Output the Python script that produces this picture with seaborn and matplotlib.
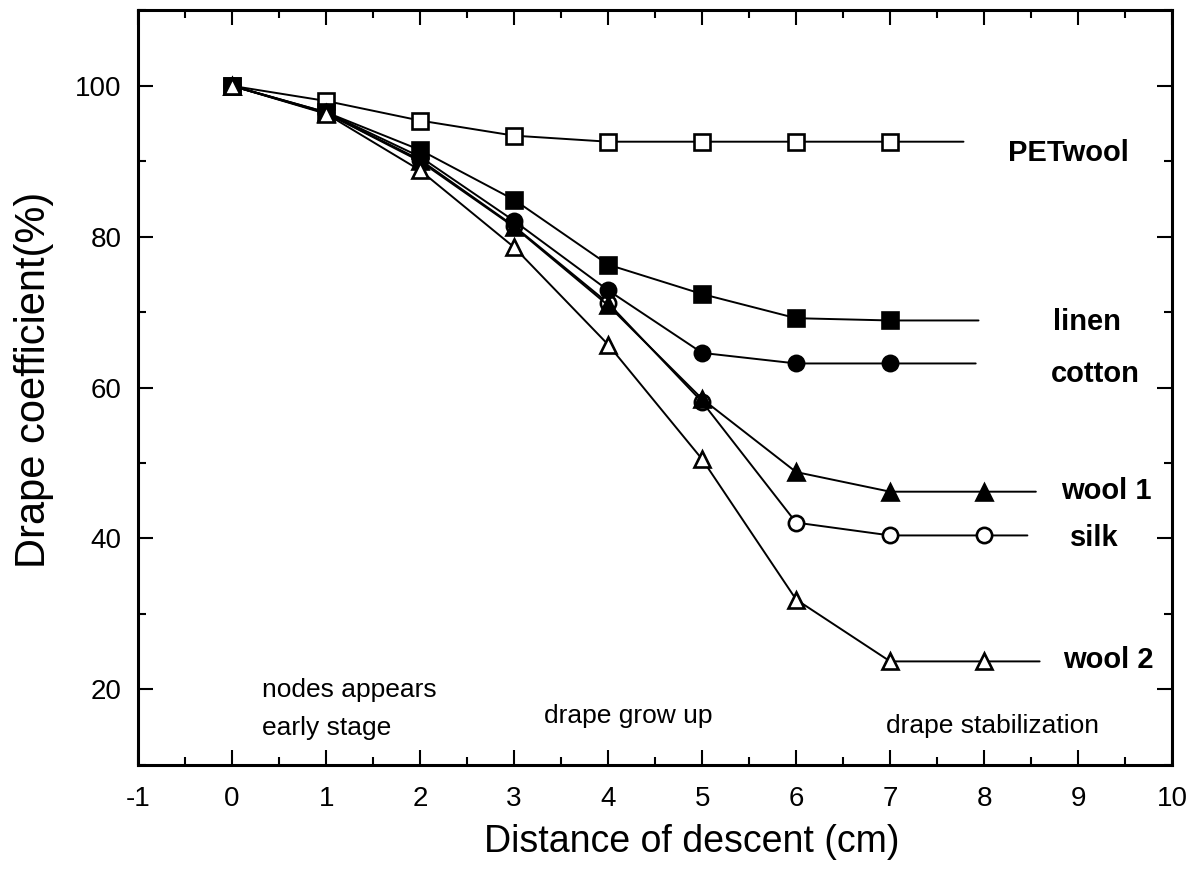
import numpy as np
import pandas as pd
import matplotlib
matplotlib.use("Agg")
import matplotlib.pyplot as plt
from matplotlib.ticker import MultipleLocator
import seaborn as sns

# descent distance (cm) where drape was measured
distance = [0, 1, 2, 3, 4, 5, 6, 7, 8]

# drape coefficient (%), one list per fabric
petwool = [100, 98.0, 95.4, 93.4, 92.6, 92.6, 92.6, 92.6]
linen = [100, 96.5, 91.5, 84.9, 76.3, 72.4, 69.2, 68.9]
cotton = [100, 96.5, 90.6, 82.1, 72.9, 64.6, 63.2, 63.2]
wool1 = [100, 96.4, 90.0, 81.3, 70.9, 58.5, 48.8, 46.2, 46.2]
silk = [100, 96.4, 90.2, 81.4, 71.2, 58.1, 42.1, 40.4, 40.4]
wool2 = [100, 96.3, 88.8, 78.6, 65.7, 50.5, 31.9, 23.7, 23.7]

# where each connecting line runs out to the right (no marker there)
tail_x = {"PETwool": 7.78, "linen": 7.94, "cotton": 7.91,
          "wool 1": 8.55, "silk": 8.46, "wool 2": 8.59}

# drawing order: silk first so the filled markers sit on top of it
names = ["silk", "PETwool", "linen", "cotton", "wool 1", "wool 2"]
values = [silk, petwool, linen, cotton, wool1, wool2]
markers = ["o", "s", "s", "o", "^", "^"]
filled = [False, False, True, True, True, False]

# label placement next to each curve
label_x = [8.91, 8.25, 8.73, 8.71, 8.82, 8.84]
label_y = [40.1, 91.1, 68.7, 61.8, 46.3, 23.9]

stage_text = ["nodes appears\nearly stage", "drape grow up", "drape stabilization"]
stage_x = [0.32, 3.32, 6.96]
stage_y = [17.4, 16.4, 15.1]

sns.set_style("ticks")
plt.rcParams["font.family"] = ["Liberation Sans", "DejaVu Sans"]
plt.rcParams["axes.unicode_minus"] = False
for key in ["text.color", "axes.labelcolor", "xtick.color", "ytick.color", "axes.edgecolor"]:
    plt.rcParams[key] = "black"

fig = plt.figure(figsize=(12.01, 8.71), dpi=100)
ax = fig.add_axes([0.115, 0.122, 0.861, 0.866])

for name, vals, mk, fill in zip(names, values, markers, filled):
    xs = distance[:len(vals)] + [tail_x[name]]
    ys = vals + [vals[-1]]
    df = pd.DataFrame({"x": xs, "y": ys})
    sns.lineplot(data=df, x="x", y="y", ax=ax, color="black", lw=1.4,
                 marker=mk, markersize=11 if mk != "^" else 12,
                 markerfacecolor="black" if fill else "white",
                 markeredgecolor="black", markeredgewidth=1.9,
                 markevery=list(range(len(vals))), sort=False)

for name, lx, ly in zip(names, label_x, label_y):
    ax.text(lx, ly, name, fontsize=21, fontweight="bold", va="center", ha="left")

for txt, sx, sy in zip(stage_text, stage_x, stage_y):
    ax.text(sx, sy, txt, fontsize=19, va="center", ha="left", linespacing=1.7)

ax.set_xlim(-1, 10)
ax.set_ylim(10, 110)
ax.xaxis.set_major_locator(MultipleLocator(1))
ax.xaxis.set_minor_locator(MultipleLocator(0.5))
ax.yaxis.set_minor_locator(MultipleLocator(10))
ax.set_yticks([20, 40, 60, 80, 100])
ax.tick_params(which="both", direction="in", top=True, right=True, width=1.5)
ax.tick_params(which="major", length=11, labelsize=20)
ax.tick_params(axis="x", which="major", pad=15)
ax.tick_params(axis="y", which="major", pad=12)
ax.tick_params(which="minor", length=6)
for sp in ax.spines.values():
    sp.set_linewidth(2.2)

ax.set_xlabel("Distance of descent (cm)", fontsize=27)
ax.set_ylabel("Drape coefficient(%)", fontsize=30)
ax.xaxis.set_label_coords(0.535, -0.078)
ax.yaxis.set_label_coords(-0.081, 0.51)

fig.savefig("out.png", dpi=100)
